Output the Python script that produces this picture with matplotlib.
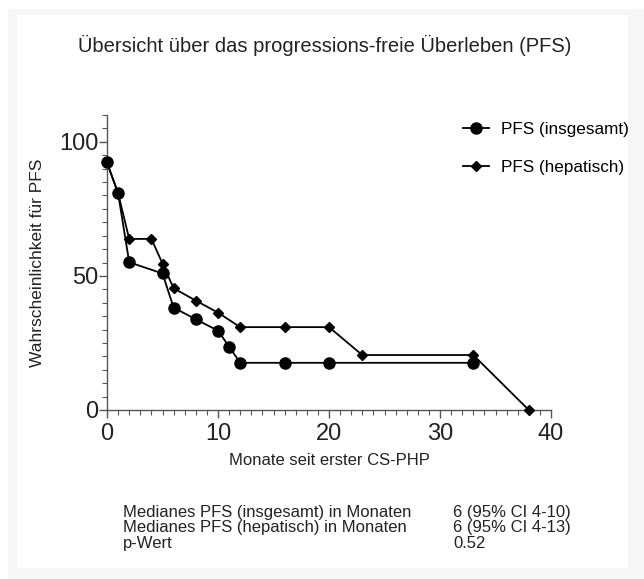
import numpy as np
import matplotlib.pyplot as plt
from matplotlib.patches import Rectangle
from matplotlib.ticker import MultipleLocator

plt.rcParams['font.family'] = ['Liberation Sans', 'DejaVu Sans']

# PFS insgesamt (circles)
months_all = [0, 1, 2, 5, 6, 8, 10, 11, 12, 16, 20, 33]
pfs_all = [92.3, 80.8, 55.1, 50.9, 38.2, 33.8, 29.6, 23.6, 17.6, 17.6, 17.6, 17.6]

# PFS hepatisch (diamonds)
months_hep = [0, 1, 2, 4, 5, 6, 8, 10, 12, 16, 20, 23, 33, 38]
pfs_hep = [92.3, 80.8, 63.8, 63.8, 54.6, 45.4, 40.8, 36.3, 30.9, 30.9, 30.9, 20.5, 20.5, 0]

table_rows = ["Medianes PFS (insgesamt) in Monaten",
              "Medianes PFS (hepatisch) in Monaten",
              "p-Wert"]
table_vals = ["6 (95% CI 4-10)", "6 (95% CI 4-13)", "0.52"]

fig = plt.figure(figsize=(6.44, 5.79), dpi=100, facecolor='white')
# very faint grey frame around the white panel
fig.patches.append(Rectangle((8/644, 0), 1 - 8/644, 1 - 9/579, transform=fig.transFigure,
                             facecolor='#f6f6f6', edgecolor='none', zorder=-2))
fig.patches.append(Rectangle((17/644, 11/579), (628 - 17)/644, (568 - 15)/579,
                             transform=fig.transFigure,
                             facecolor='white', edgecolor='none', zorder=-1))

ax = fig.add_axes([107/644, 1 - 410/579, (551 - 107)/644, (410 - 115)/579])
ax.set_facecolor('none')

ax.plot(months_all, pfs_all, color='black', lw=1.3, marker='o', markersize=8,
        clip_on=False, zorder=3, label='PFS (insgesamt)')
ax.plot(months_hep, pfs_hep, color='black', lw=1.3, marker='D', markersize=5.5,
        clip_on=False, zorder=4, label='PFS (hepatisch)')

ax.set_xlim(0, 40)
ax.set_ylim(0, 110)
ax.set_xticks([0, 10, 20, 30, 40])
ax.set_yticks([0, 50, 100])
ax.xaxis.set_minor_locator(MultipleLocator(1))
ax.yaxis.set_minor_locator(MultipleLocator(5))
for s in ['top', 'right']:
    ax.spines[s].set_visible(False)
for s in ['left', 'bottom']:
    ax.spines[s].set_color('#555555')
    ax.spines[s].set_linewidth(1.0)
ax.tick_params(which='major', length=6, width=1.0, color='#555555', labelsize=17,
               labelcolor='#222222')
ax.tick_params(axis='x', which='major', pad=3)
ax.tick_params(axis='y', which='major', pad=0)
ax.tick_params(which='minor', length=3.5, width=0.8, color='#555555')

ax.set_xlabel('Monate seit erster CS-PHP', fontsize=12, color='#222222', labelpad=6)
ax.set_ylabel('Wahrscheinlichkeit für PFS', fontsize=12.5, color='#222222', labelpad=10)

ax.legend(loc='upper left', bbox_to_anchor=(0.767, 1.03), frameon=False, fontsize=12.3,
          handlelength=1.5, handletextpad=0.7, labelspacing=1.4)

fig.text(325/644, 1 - 45/579, 'Übersicht über das progressions-freie Überleben (PFS)',
         ha='center', va='center', fontsize=14.5, color='#222222')

for i, (lab, val) in enumerate(zip(table_rows, table_vals)):
    y = 1 - (512 + 15.7 * i) / 579
    fig.text(123/644, y, lab, ha='left', va='center', fontsize=12, color='#222222')
    fig.text(453/644, y, val, ha='left', va='center', fontsize=12, color='#222222')

fig.savefig('out.png', dpi=100, facecolor=fig.get_facecolor())
